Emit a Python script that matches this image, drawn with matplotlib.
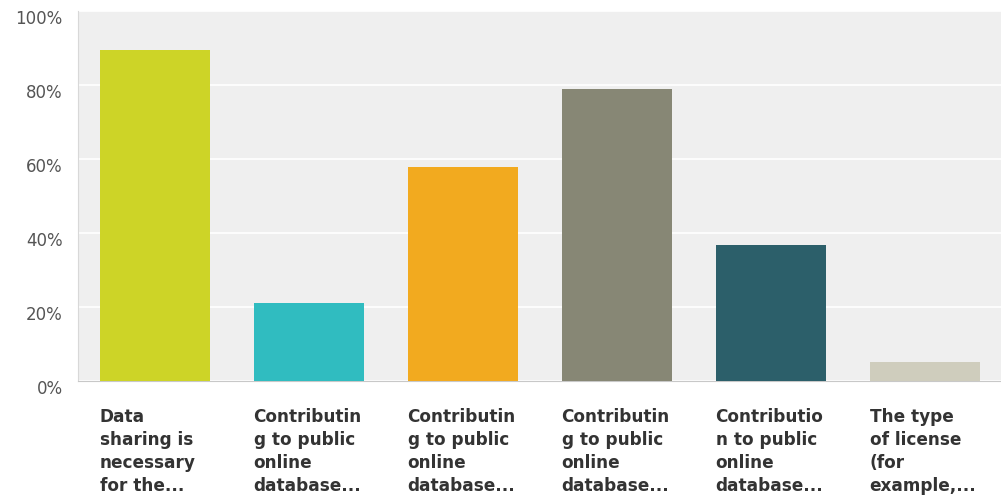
import matplotlib.pyplot as plt
from matplotlib.ticker import FuncFormatter
from matplotlib.transforms import ScaledTranslation

plt.rcParams['font.family'] = ['DejaVu Sans']

labels = ["Data\nsharing is\nnecessary\nfor the...",
          "Contributin\ng to public\nonline\ndatabase...",
          "Contributin\ng to public\nonline\ndatabase...",
          "Contributin\ng to public\nonline\ndatabase...",
          "Contributio\nn to public\nonline\ndatabase...",
          "The type\nof license\n(for\nexample,..."]
values = [89.47, 21.05, 57.89, 78.95, 36.84, 5.26]
colors = ["#cdd427", "#30bcc0", "#f2aa1f", "#878775", "#2c5f6a", "#cfcdbd"]

fig = plt.figure(figsize=(10.01, 5.0), dpi=100)
ax = fig.add_axes([78 / 1001, 119 / 500, 924 / 1001, 370 / 500])
ax.set_facecolor("#efefef")

width = 0.72
x = range(len(values))
ax.bar(x, values, width=width, color=colors, zorder=3)

ax.set_xlim(-0.5, len(values) - 0.5)
ax.set_ylim(0, 100)
ax.set_yticks([0, 20, 40, 60, 80, 100])
ax.yaxis.set_major_formatter(FuncFormatter(lambda v, p: f"{v:.0f}%"))
ax.tick_params(axis='y', length=0, pad=11, labelsize=12, labelcolor="#555555")
ax.set_xticks([])
ax.grid(axis='y', color="white", linewidth=1.2, zorder=1)

# y labels sit a little below their gridlines
shift = ScaledTranslation(0, -0.06, fig.dpi_scale_trans)
for t in ax.get_yticklabels():
    t.set_transform(t.get_transform() + shift)

for side in ["top", "right"]:
    ax.spines[side].set_visible(False)
ax.spines["left"].set_color("#d8d8d8")
ax.spines["bottom"].set_color("#c8c8c8")

# category labels, left aligned under each bar
for i, lab in enumerate(labels):
    ax.text(i - width / 2, -0.072, lab, transform=ax.get_xaxis_transform(),
            ha="left", va="top", fontsize=12.2, fontweight="bold",
            color="#333333", linespacing=1.36)

fig.savefig("out.png", dpi=100)
